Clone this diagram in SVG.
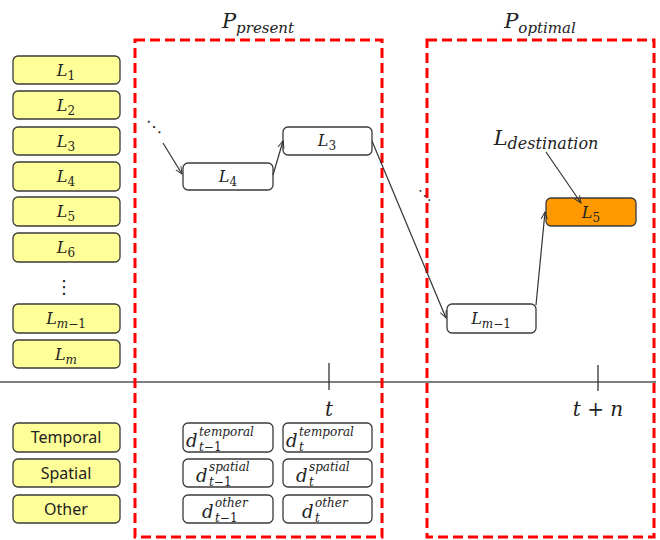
<svg xmlns="http://www.w3.org/2000/svg" width="660" height="540" viewBox="0 0 660 540">
<style>
.y{fill:#ffff99;stroke:#3a3a3a;stroke-width:1.3}
.w{fill:#ffffff;stroke:#3a3a3a;stroke-width:1.3}
.o{fill:#ff9900;stroke:#3a3a3a;stroke-width:1.3}
.m{font-family:"DejaVu Serif","Liberation Serif",serif;font-style:italic;fill:#222}
.s{font-family:"Noto Sans","Open Sans",sans-serif;font-size:16px;fill:#222}
.red{fill:none;stroke:#ff0000;stroke-width:3;stroke-dasharray:10,5}
.c{stroke:#333;stroke-width:1.2;fill:none}
</style>
<defs>
<marker id="ah" viewBox="0 0 10 10" refX="9" refY="5" markerWidth="8" markerHeight="8" orient="auto" markerUnits="userSpaceOnUse">
<path d="M0,1 L9,5 L0,9" fill="none" stroke="#333" stroke-width="1.2"/>
</marker>
</defs>
<rect width="660" height="540" fill="#fff"/>

<!-- axis -->
<g id="axis">
<line x1="0" y1="382" x2="656" y2="382" stroke="#555" stroke-width="1.5"/>
<line x1="329" y1="363" x2="329" y2="390" stroke="#333" stroke-width="1.3"/>
<line x1="598" y1="365" x2="598" y2="391" stroke="#333" stroke-width="1.3"/>
<text class="m" x="329" y="416" font-size="20" text-anchor="middle">t</text>
<text class="m" x="598" y="416" font-size="20" text-anchor="middle">t + n</text>
</g>

<!-- regions -->
<g id="present">
<rect class="red" x="135" y="40" width="247" height="497"/>
<text class="m" x="258" y="28" font-size="21" text-anchor="middle">P<tspan font-size="15" dy="5">present</tspan></text>
</g>
<g id="optimal">
<rect class="red" x="427" y="40" width="227" height="497"/>
<text class="m" x="540" y="28" font-size="21" text-anchor="middle">P<tspan font-size="15" dy="5">optimal</tspan></text>
</g>

<!-- left list -->
<g id="L1"><rect class="y" x="13" y="56" width="107" height="28" rx="5"/><text class="m" x="66" y="76" font-size="16" text-anchor="middle">L<tspan font-size="12" dy="4" font-style="normal">1</tspan></text></g>
<g id="L2"><rect class="y" x="13" y="91" width="107" height="28" rx="5"/><text class="m" x="66" y="111" font-size="16" text-anchor="middle">L<tspan font-size="12" dy="4" font-style="normal">2</tspan></text></g>
<g id="L3"><rect class="y" x="13" y="127" width="107" height="28" rx="5"/><text class="m" x="66" y="147" font-size="16" text-anchor="middle">L<tspan font-size="12" dy="4" font-style="normal">3</tspan></text></g>
<g id="L4"><rect class="y" x="13" y="162" width="107" height="29" rx="5"/><text class="m" x="66" y="182" font-size="16" text-anchor="middle">L<tspan font-size="12" dy="4" font-style="normal">4</tspan></text></g>
<g id="L5"><rect class="y" x="13" y="197" width="107" height="29" rx="5"/><text class="m" x="66" y="217" font-size="16" text-anchor="middle">L<tspan font-size="12" dy="4" font-style="normal">5</tspan></text></g>
<g id="L6"><rect class="y" x="13" y="233" width="107" height="29" rx="5"/><text class="m" x="66" y="253" font-size="16" text-anchor="middle">L<tspan font-size="12" dy="4" font-style="normal">6</tspan></text></g>
<g id="vdots"><text x="64" y="293" font-family="DejaVu Sans,sans-serif" font-size="18" text-anchor="middle" fill="#222">⋮</text></g>
<g id="Lm1"><rect class="y" x="13" y="304" width="107" height="29" rx="5"/><text class="m" x="66" y="324" font-size="16" text-anchor="middle">L<tspan font-size="12" dy="4">m</tspan><tspan font-size="12" font-style="normal">−1</tspan></text></g>
<g id="Lm"><rect class="y" x="13" y="340" width="107" height="28" rx="5"/><text class="m" x="66" y="360" font-size="16" text-anchor="middle">L<tspan font-size="12" dy="4">m</tspan></text></g>

<!-- path nodes -->
<g id="dots1"><text x="154" y="132" font-family="DejaVu Sans,sans-serif" font-size="16" text-anchor="middle" fill="#222">⋱</text></g>
<g id="nL4"><rect class="w" x="183" y="163" width="90" height="27" rx="5"/><text class="m" x="228" y="182" font-size="16" text-anchor="middle">L<tspan font-size="12" dy="4" font-style="normal">4</tspan></text></g>
<g id="nL3"><rect class="w" x="283" y="127" width="89" height="28" rx="5"/><text class="m" x="327" y="146" font-size="16" text-anchor="middle">L<tspan font-size="12" dy="4" font-style="normal">3</tspan></text></g>
<g id="dots2"><text x="425" y="200" font-family="DejaVu Sans,sans-serif" font-size="14" text-anchor="middle" fill="#222">⋱</text></g>
<g id="nLm1"><rect class="w" x="447" y="304" width="89" height="29" rx="5"/><text class="m" x="491" y="324" font-size="16" text-anchor="middle">L<tspan font-size="12" dy="4">m</tspan><tspan font-size="12" font-style="normal">−1</tspan></text></g>
<g id="nL5"><rect class="o" x="546" y="198" width="90" height="28" rx="5"/><text class="m" x="591" y="218" font-size="16" text-anchor="middle">L<tspan font-size="12" dy="4" font-style="normal">5</tspan></text></g>
<g id="dest"><text class="m" x="546" y="145" font-size="21" text-anchor="middle">L<tspan font-size="16" dy="4">destination</tspan></text></g>

<!-- connectors -->
<g id="connectors">
<line class="c" x1="163" y1="143" x2="182" y2="174" marker-end="url(#ah)"/>
<line class="c" x1="273" y1="175" x2="283" y2="141" marker-end="url(#ah)"/>
<line class="c" x1="372" y1="141" x2="446" y2="318" marker-end="url(#ah)"/>
<line class="c" x1="536" y1="305" x2="545" y2="212" marker-end="url(#ah)"/>
<line class="c" x1="546" y1="152" x2="581" y2="203" marker-end="url(#ah)"/>
</g>

<!-- bottom categories -->
<g id="temporal"><rect class="y" x="13" y="423" width="107" height="29" rx="5"/><text class="s" x="66" y="443" text-anchor="middle">Temporal</text></g>
<g id="spatial"><rect class="y" x="13" y="459" width="107" height="28" rx="5"/><text class="s" x="66" y="479" text-anchor="middle">Spatial</text></g>
<g id="other"><rect class="y" x="13" y="495" width="107" height="28" rx="5"/><text class="s" x="66" y="515" text-anchor="middle">Other</text></g>

<g id="d1t"><rect class="w" x="183" y="423" width="90" height="29" rx="5"/>
<text class="m" font-size="18"><tspan x="186" y="447">d</tspan><tspan x="199" y="436" font-size="12">temporal</tspan><tspan x="199" y="451" font-size="12">t</tspan><tspan font-size="12" font-style="normal">−1</tspan></text></g>
<g id="d2t"><rect class="w" x="283" y="423" width="89" height="29" rx="5"/>
<text class="m" font-size="18"><tspan x="286" y="447">d</tspan><tspan x="299" y="436" font-size="12">temporal</tspan><tspan x="299" y="451" font-size="12">t</tspan></text></g>
<g id="d1s"><rect class="w" x="183" y="459" width="90" height="28" rx="5"/>
<text class="m" font-size="18"><tspan x="196" y="482">d</tspan><tspan x="209" y="471" font-size="12">spatial</tspan><tspan x="209" y="486" font-size="12">t</tspan><tspan font-size="12" font-style="normal">−1</tspan></text></g>
<g id="d2s"><rect class="w" x="283" y="459" width="89" height="28" rx="5"/>
<text class="m" font-size="18"><tspan x="296" y="482">d</tspan><tspan x="309" y="471" font-size="12">spatial</tspan><tspan x="309" y="486" font-size="12">t</tspan></text></g>
<g id="d1o"><rect class="w" x="183" y="495" width="90" height="28" rx="5"/>
<text class="m" font-size="18"><tspan x="202" y="518">d</tspan><tspan x="215" y="507" font-size="12">other</tspan><tspan x="215" y="522" font-size="12">t</tspan><tspan font-size="12" font-style="normal">−1</tspan></text></g>
<g id="d2o"><rect class="w" x="283" y="495" width="89" height="28" rx="5"/>
<text class="m" font-size="18"><tspan x="302" y="518">d</tspan><tspan x="315" y="507" font-size="12">other</tspan><tspan x="315" y="522" font-size="12">t</tspan></text></g>
</svg>
